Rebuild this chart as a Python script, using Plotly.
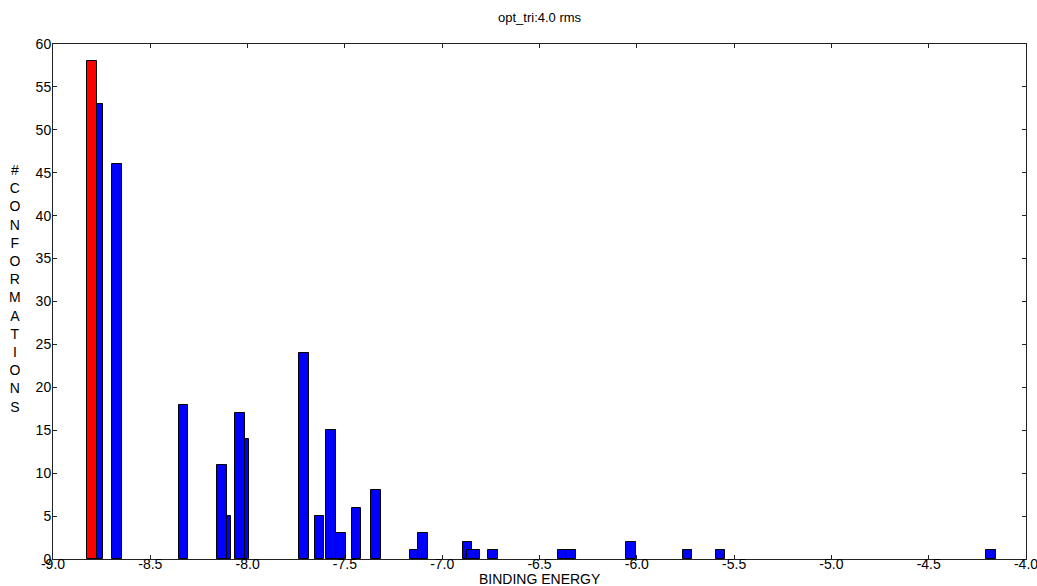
import plotly.graph_objects as go

# Binding energies (blue bars, listed in drawing order) and their counts
energies = [-8.77, -8.67, -8.33, -8.11, -8.13, -8.02, -8.04, -7.71, -7.63,
            -7.52, -7.57, -7.44, -7.34, -7.14, -7.10, -6.87, -6.83, -6.85,
            -6.74, -6.38, -6.34, -6.03, -5.74, -5.57, -4.18]
counts = [53, 46, 18, 5, 11, 14, 17, 24, 5,
          3, 15, 6, 8, 1, 3, 2, 1, 1,
          1, 1, 1, 2, 1, 1, 1]

# Lowest-energy cluster (highlighted red)
best_energy = [-8.80]
best_count = [58]

bar_width = 0.05

x_ticks = [-9.0, -8.5, -8.0, -7.5, -7.0, -6.5, -6.0, -5.5, -5.0, -4.5, -4.0]
y_ticks = [0, 5, 10, 15, 20, 25, 30, 35, 40, 45, 50, 55, 60]

title_text = "opt_tri:4.0 rms"
x_title = "BINDING ENERGY"
y_title = "#CONFORMATIONS"

FONT = "Liberation Sans, Arial, Helvetica"

fig = go.Figure()
fig.add_trace(go.Bar(
    x=energies, y=counts, width=[bar_width] * len(energies),
    marker=dict(color="#0000ff", line=dict(color="black", width=1)),
    showlegend=False, hoverinfo="skip",
))
fig.add_trace(go.Bar(
    x=best_energy, y=best_count, width=[bar_width],
    marker=dict(color="#ff0000", line=dict(color="black", width=1)),
    showlegend=False, hoverinfo="skip",
))

axis_common = dict(
    showline=True, linecolor="#222", linewidth=1, mirror="ticks",
    ticks="inside", ticklen=4, tickcolor="#222", showgrid=False,
    zeroline=False, automargin=False, ticklabeloverflow="allow",
    tickfont=dict(family=FONT, size=14, color="black"),
)

fig.update_layout(
    width=1037, height=586,
    margin=dict(l=53, r=11, t=44, b=27, autoexpand=False),
    plot_bgcolor="white", paper_bgcolor="white",
    barmode="overlay", bargap=0,
    xaxis=dict(range=[-9.0, -4.0], tickvals=x_ticks,
               ticktext=[f"{v:.1f}" for v in x_ticks],
               ticklabelstandoff=-8, **axis_common),
    yaxis=dict(range=[0, 60], tickvals=y_ticks, ticklabelstandoff=-2,
               **axis_common),
    font=dict(family=FONT, size=14, color="black"),
)

fig.add_annotation(
    text=title_text, xref="paper", yref="paper", x=0.5, y=1 + 26 / 515,
    showarrow=False, xanchor="center", yanchor="middle",
    font=dict(size=13, family=FONT, color="black"),
)
fig.add_annotation(
    text=x_title, xref="paper", yref="paper", x=0.5, y=-20 / 515,
    showarrow=False, xanchor="center", yanchor="middle",
    font=dict(size=14, family=FONT, color="black"),
)
fig.add_annotation(
    text="<br>".join(list(y_title)), xref="paper", yref="paper",
    x=-38 / 973, y=(559 - 288) / 515,
    showarrow=False, xanchor="center", yanchor="middle", align="center",
    font=dict(size=14, family=FONT, color="black"),
)

fig.write_html(
    "out.html",
    config={"displayModeBar": False},
    post_script="document.body.style.margin='0';document.body.style.overflow='hidden';",
)
